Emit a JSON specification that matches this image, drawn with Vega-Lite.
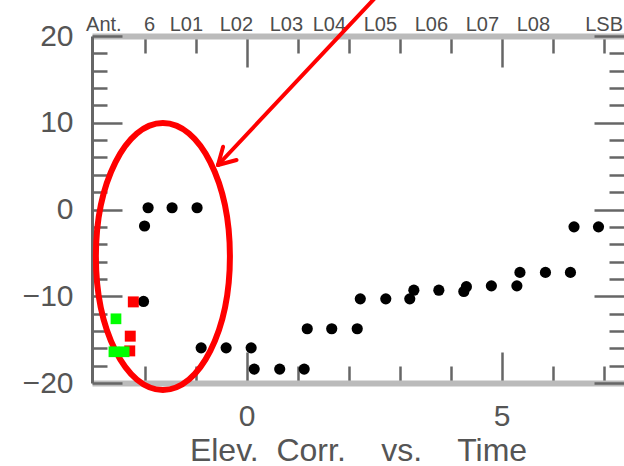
{
  "$schema": "https://vega.github.io/schema/vega-lite/v6.json",
  "width": 532,
  "height": 347,
  "autosize": {"type": "none"},
  "padding": {"left": 92, "top": 36, "right": 0, "bottom": 83},
  "background": "white",
  "config": {
    "view": {"stroke": null},
    "axis": {
      "grid": false,
      "labelFont": "Liberation Sans",
      "titleFont": "Liberation Sans",
      "labelOverlap": false,
      "labelFlush": false,
      "labelBound": false,
      "tickColor": "#666666",
      "tickWidth": 2.5,
      "labelColor": "#555555",
      "titleColor": "#555555"
    }
  },
  "datasets": {
    "points": [
      {"series": "A", "t": -2.0, "corr": -1.9},
      {"series": "A", "t": -1.93, "corr": 0.2},
      {"series": "A", "t": -1.46, "corr": 0.2},
      {"series": "A", "t": -0.97, "corr": 0.2},
      {"series": "A", "t": -2.02, "corr": -10.6},
      {"series": "A", "t": -0.89, "corr": -15.95},
      {"series": "A", "t": -0.4, "corr": -15.95},
      {"series": "A", "t": 0.09, "corr": -15.95},
      {"series": "A", "t": 0.15, "corr": -18.4},
      {"series": "A", "t": 0.65, "corr": -18.4},
      {"series": "A", "t": 1.13, "corr": -18.4},
      {"series": "A", "t": 1.19, "corr": -13.75},
      {"series": "A", "t": 1.67, "corr": -13.75},
      {"series": "A", "t": 2.17, "corr": -13.75},
      {"series": "A", "t": 2.23, "corr": -10.3},
      {"series": "A", "t": 2.73, "corr": -10.3},
      {"series": "A", "t": 3.2, "corr": -10.3},
      {"series": "A", "t": 3.28, "corr": -9.3},
      {"series": "A", "t": 3.77, "corr": -9.3},
      {"series": "A", "t": 4.26, "corr": -9.45},
      {"series": "A", "t": 4.31, "corr": -8.9},
      {"series": "A", "t": 4.8, "corr": -8.8},
      {"series": "A", "t": 5.3, "corr": -8.8},
      {"series": "A", "t": 5.36, "corr": -7.25},
      {"series": "A", "t": 5.86, "corr": -7.25},
      {"series": "A", "t": 6.35, "corr": -7.25},
      {"series": "A", "t": 6.42, "corr": -2.0},
      {"series": "A", "t": 6.9, "corr": -2.0},
      {"series": "B", "t": -2.22, "corr": -10.65},
      {"series": "B", "t": -2.28, "corr": -14.6},
      {"series": "B", "t": -2.29, "corr": -16.3},
      {"series": "C", "t": -2.56, "corr": -12.6},
      {"series": "C", "t": -2.6, "corr": -16.4},
      {"series": "C", "t": -2.4, "corr": -16.4}
    ],
    "ring": [{"t": -1.64, "corr": -5.42}],
    "arrow": [
      {"t": 2.85, "corr": 26.46, "t2": -0.56, "corr2": 5.13},
      {"t": -0.56, "corr": 5.13, "t2": -0.46, "corr2": 7.24},
      {"t": -0.56, "corr": 5.13, "t2": -0.196, "corr2": 5.71}
    ]
  },
  "layer": [
    {
      "data": {"name": "ring"},
      "mark": {
        "type": "point",
        "shape": "M0,-1C0.2772,-1 0.502,-0.5523 0.502,0C0.502,0.5523 0.2772,1 0,1C-0.2772,1 -0.502,0.5523 -0.502,0C-0.502,-0.5523 -0.2772,-1 0,-1Z",
        "size": 71289,
        "filled": false,
        "stroke": "#ff0000",
        "strokeWidth": 6,
        "opacity": 1
      },
      "encoding": {
        "x": {
          "field": "t",
          "type": "quantitative",
          "scale": {"domain": [-3.03, 7.4], "nice": false, "zero": false},
          "axis": {
            "orient": "top",
            "title": null,
            "values": [-2, -1, 0, 1, 2, 3, 4, 5, 6, 7],
            "labelExpr": "['Ant.\u00a0\u00a0\u00a0 6', 'L01', 'L02', 'L03', 'L04', 'L05', 'L06', 'L07', 'L08', 'LSB'][datum.value + 2]",
            "domainColor": "#bbbbbb",
            "domainWidth": 6,
            "tickSize": {"condition": {"test": "datum.value % 5 === 0", "value": -31}, "value": -17},
            "labelPadding": {"condition": {"test": "datum.value % 5 === 0", "value": 37}, "value": 23},
            "labelBaseline": "alphabetic",
            "labelAlign": {"condition": {"test": "datum.value === 7", "value": "center"}, "value": "right"},
            "labelOffset": {
              "condition": [
                {"test": "datum.value === -2", "value": 10},
                {"test": "datum.value === -1", "value": 7},
                {"test": "datum.value === 0", "value": 6},
                {"test": "datum.value === 1", "value": 5},
                {"test": "datum.value === 7", "value": 0}
              ],
              "value": -3
            },
            "labelFontSize": 20,
            "labelColor": "#4d4d4d"
          }
        },
        "y": {
          "field": "corr",
          "type": "quantitative",
          "scale": {"domain": [-20, 20], "nice": false, "zero": false},
          "axis": {
            "orient": "right",
            "title": null,
            "values": [-20, -18, -16, -14, -12, -10, -8, -6, -4, -2, 0, 2, 4, 6, 8, 10, 12, 14, 16, 18, 20],
            "labels": false,
            "domain": false,
            "tickSize": {"condition": {"test": "datum.value % 10 === 0", "value": -30}, "value": -15}
          }
        }
      }
    },
    {
      "data": {"name": "arrow"},
      "mark": {"type": "rule", "color": "#ff0000", "strokeWidth": 4, "strokeCap": "round"},
      "encoding": {
        "x": {"field": "t", "type": "quantitative", "scale": {"domain": [-3.03, 7.4], "nice": false, "zero": false}, "axis": null},
        "y": {"field": "corr", "type": "quantitative", "scale": {"domain": [-20, 20], "nice": false, "zero": false}, "axis": null},
        "x2": {"field": "t2"},
        "y2": {"field": "corr2"}
      }
    },
    {
      "data": {"name": "points"},
      "mark": {"type": "point", "filled": true, "opacity": 1, "strokeWidth": 0},
      "encoding": {
        "x": {
          "field": "t",
          "type": "quantitative",
          "scale": {"domain": [-3.03, 7.4], "nice": false, "zero": false},
          "axis": {
            "orient": "bottom",
            "values": [-2, -1, 0, 1, 2, 3, 4, 5, 6, 7],
            "labelExpr": "datum.value % 5 === 0 ? datum.label : ''",
            "domainColor": "#bbbbbb",
            "domainWidth": 6,
            "tickSize": {"condition": {"test": "datum.value % 5 === 0", "value": -31}, "value": -17},
            "labelPadding": {"condition": {"test": "datum.value % 5 === 0", "value": 49}, "value": 35},
            "labelBaseline": "top",
            "labelFontSize": 30,
            "title": "Elev.\u00a0 Corr.\u00a0\u00a0\u00a0 vs.\u00a0\u00a0\u00a0 Time",
            "titleFontSize": 32,
            "titleFontWeight": "normal",
            "titleY": 77,
            "titleBaseline": "alphabetic"
          }
        },
        "y": {
          "field": "corr",
          "type": "quantitative",
          "scale": {"domain": [-20, 20], "nice": false, "zero": false},
          "axis": {
            "orient": "left",
            "title": null,
            "values": [-20, -18, -16, -14, -12, -10, -8, -6, -4, -2, 0, 2, 4, 6, 8, 10, 12, 14, 16, 18, 20],
            "labelExpr": "datum.value % 10 === 0 ? datum.label : ''",
            "domainColor": "#666666",
            "domainWidth": 3,
            "tickSize": {"condition": {"test": "datum.value % 10 === 0", "value": -30}, "value": -15},
            "labelPadding": {"condition": {"test": "datum.value % 10 === 0", "value": 49}, "value": 34},
            "labelFontSize": 30
          }
        },
        "color": {
          "field": "series",
          "type": "nominal",
          "scale": {"domain": ["A", "B", "C"], "range": ["#000000", "#ff0000", "#00ff00"]},
          "legend": null
        },
        "shape": {
          "field": "series",
          "type": "nominal",
          "scale": {"domain": ["A", "B", "C"], "range": ["circle", "square", "square"]},
          "legend": null
        },
        "size": {
          "field": "series",
          "type": "nominal",
          "scale": {"domain": ["A", "B", "C"], "range": [125, 115, 115]},
          "legend": null
        }
      }
    }
  ],
  "resolve": {"axis": {"x": "independent", "y": "independent"}}
}
